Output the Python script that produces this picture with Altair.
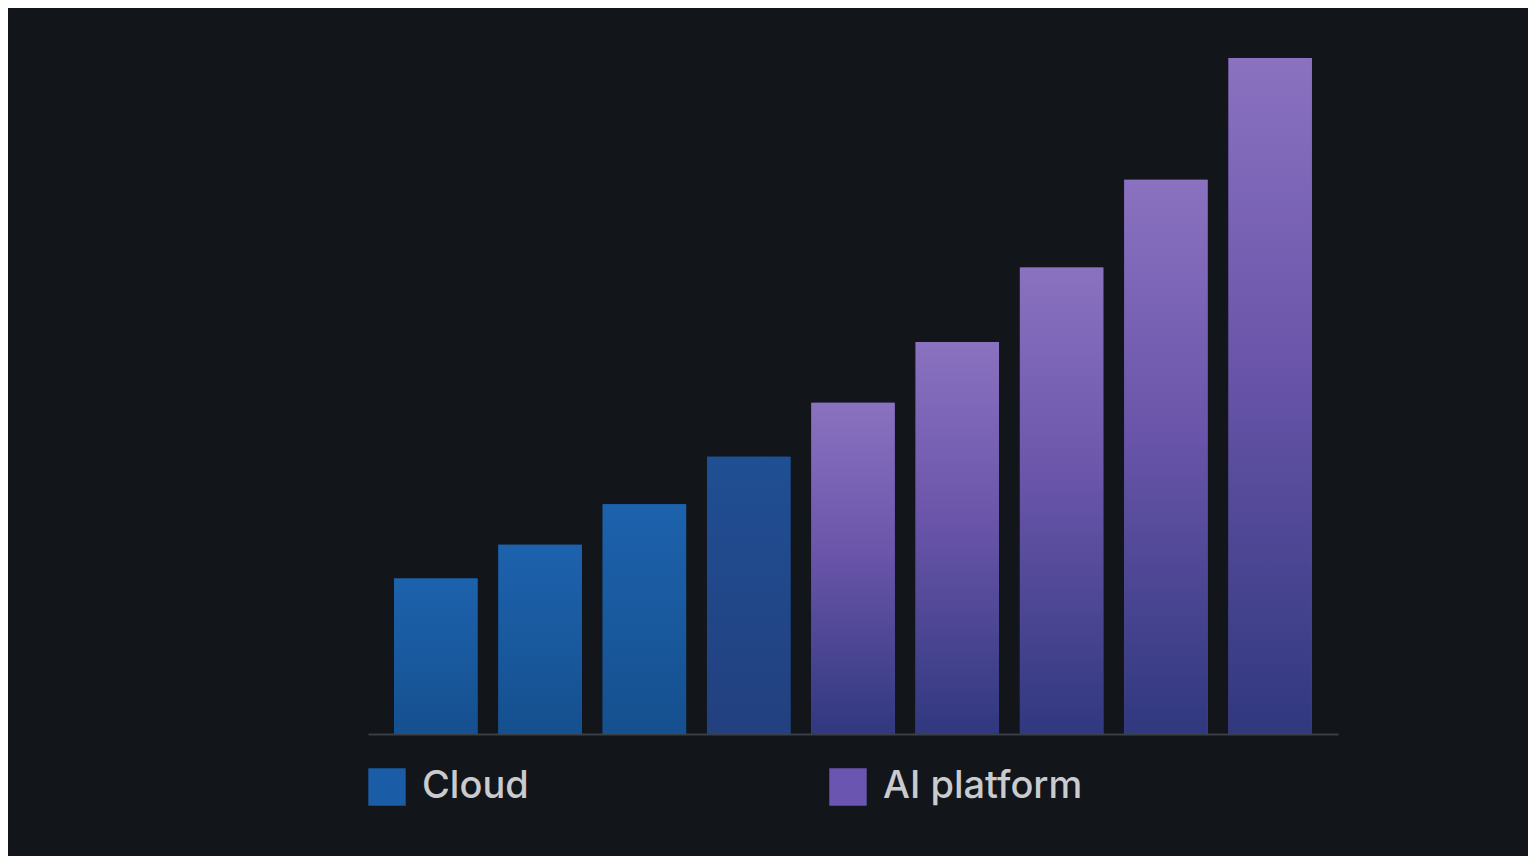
import altair as alt
import pandas as pd

categories = ["1", "2", "3", "4", "5", "6", "7", "8", "9"]
series = ["Cloud", "Cloud", "Cloud", "Cloud", "AI platform", "AI platform", "AI platform", "AI platform", "AI platform"]
values = [23, 28, 34, 41, 49, 58, 69, 82, 100]

df = pd.DataFrame({"cat": categories, "series": series, "value": values})

x = alt.X("cat:N", sort=categories, axis=alt.Axis(labels=False, ticks=False, title=None,
                                                   domainColor="#3a3f47", domainWidth=2),
          scale=alt.Scale(paddingInner=0.2, paddingOuter=0.25))
y = alt.Y("value:Q", axis=None, scale=alt.Scale(domain=[0, 100]))

base = alt.Chart(df).encode(x=x, y=y)

legend_bars = base.mark_bar().encode(
    color=alt.Color("series:N", sort=["Cloud", "AI platform"],
                    scale=alt.Scale(domain=["Cloud", "AI platform"], range=["#1a5ca6", "#6a55b0"]),
                    legend=alt.Legend(title=None, orient="bottom", direction="horizontal",
                                      symbolType="square", symbolSize=1400, symbolStrokeWidth=0,
                                      labelFontSize=38, labelColor="#c9cbce", labelFont="Inter",
                                      labelFontWeight=500, labelLimit=600, columnPadding=300,
                                      labelOffset=16, offset=34, padding=0))
)

def grad(top, bottom):
    return alt.Gradient(gradient="linear", x1=0, x2=0, y1=0, y2=1,
                        stops=[alt.GradientStop(color=top, offset=0),
                               alt.GradientStop(color=bottom, offset=1)])

cloud = base.mark_bar(color=grad("#1d62ad", "#15508f")).transform_filter(
    "datum.series == 'Cloud' && datum.cat != '4'")
cloud4 = base.mark_bar(color=grad("#1f4f93", "#23407f")).transform_filter("datum.cat == '4'")
ai = base.mark_bar(color=alt.Gradient(gradient="linear", x1=0, x2=0, y1=0, y2=1,
                                      stops=[alt.GradientStop(color="#8a72c0", offset=0),
                                             alt.GradientStop(color="#6a55aa", offset=0.45),
                                             alt.GradientStop(color="#30387e", offset=1)])).transform_filter(
    "datum.series == 'AI platform'")

chart = alt.layer(legend_bars, cloud, cloud4, ai).properties(
    width=1520, height=848,
    autosize=alt.AutoSizeParams(type="fit", contains="padding"),
    padding={"left": 360, "right": 190, "top": 50, "bottom": 50},
    background="#121519",
).configure_view(stroke=None)

chart.save("out.html", embed_options={"renderer": "svg", "actions": False})
